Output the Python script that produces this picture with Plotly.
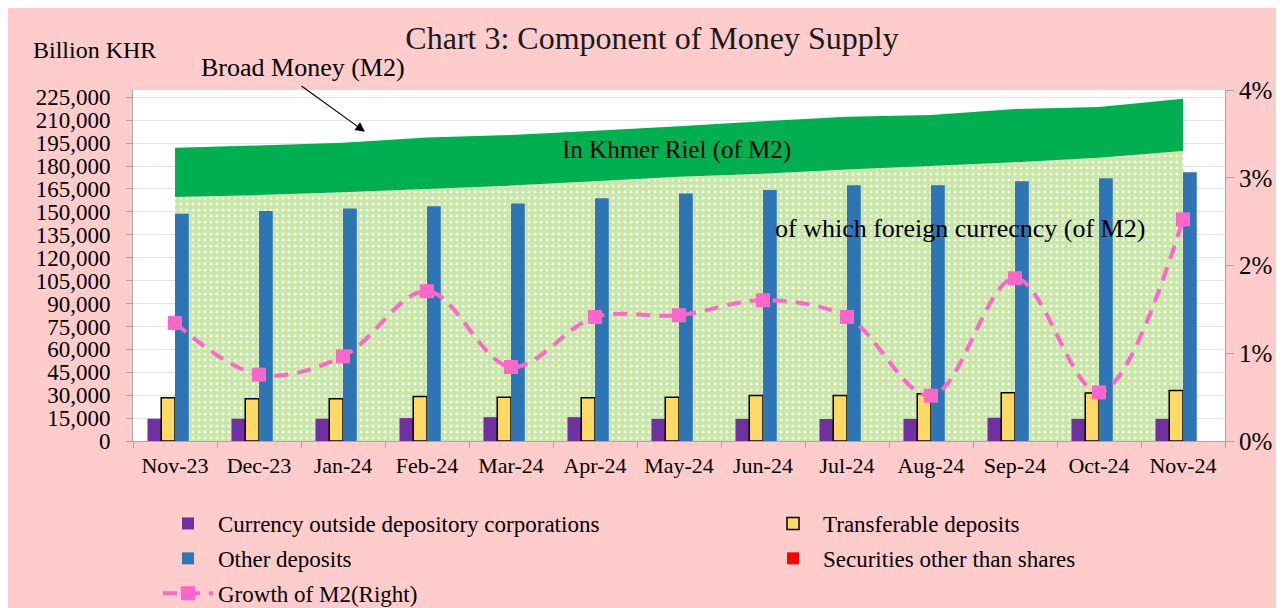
import plotly.graph_objects as go

months = ["Nov-23", "Dec-23", "Jan-24", "Feb-24", "Mar-24", "Apr-24", "May-24",
          "Jun-24", "Jul-24", "Aug-24", "Sep-24", "Oct-24", "Nov-24"]

# Billion KHR
foreign_currency = [159800, 161000, 162800, 165000, 167200, 170000, 173000,
                    175000, 177800, 180000, 182500, 185500, 189800]
khmer_riel = [32200, 32450, 32500, 33650, 33100, 33200, 33100,
              34400, 34500, 33400, 34900, 33100, 34300]
currency_outside = [14600, 14600, 14600, 15000, 15600, 15600, 14500,
                    14500, 14400, 14500, 15200, 14500, 14500]
transferable = [28300, 27700, 27700, 29200, 28700, 28300, 28700,
                29800, 29800, 30900, 31600, 31400, 33100]
other_deposits = [148700, 150500, 152200, 153700, 155500, 159000, 162100,
                  164400, 167500, 167500, 170100, 172100, 176000]
securities = [0, 0, 0, 0, 0, 0, 0, 0, 0, 0, 0, 0, 0]
# percent, month-on-month
m2_growth = [1.345, 0.756, 0.965, 1.707, 0.843, 1.413, 1.433,
             1.604, 1.413, 0.516, 1.855, 0.554, 2.525]

left_ticks = list(range(0, 225001, 15000))
left_ticktext = [f"{v:,}" for v in left_ticks]

FONT = "Liberation Serif"
LEFT_RANGE = [0, 229800]

fig = go.Figure()

# areas on the base axis (drawn first, underneath)
fig.add_trace(go.Scatter(
    x=months, y=foreign_currency, stackgroup="m2", mode="none",
    fillcolor="white",
    fillpattern=dict(shape=".", fgcolor="#92D050", bgcolor="white",
                     size=6, solidity=0.8),
    showlegend=False, hoverinfo="skip"))
fig.add_trace(go.Scatter(
    x=months, y=khmer_riel, stackgroup="m2", mode="none",
    fillcolor="#00B050", showlegend=False, hoverinfo="skip"))

# bars on an overlaying copy of the left axis (drawn above the areas)
fig.add_trace(go.Bar(x=months, y=currency_outside, yaxis="y2",
                     name="Currency outside depository corporations",
                     marker=dict(color="#7030A0", line=dict(width=0)),
                     legend="legend", legendgroup="a"))
fig.add_trace(go.Bar(x=months, y=transferable, yaxis="y2", name="Transferable deposits",
                     marker=dict(color="#FFD966", line=dict(color="black", width=1.5)),
                     legend="legend2", legendgroup="b"))
fig.add_trace(go.Bar(x=months, y=other_deposits, yaxis="y2", name="Other deposits",
                     marker=dict(color="#2E75B6", line=dict(width=0)),
                     legend="legend", legendgroup="c"))
fig.add_trace(go.Bar(x=months, y=securities, yaxis="y2", name="Securities other than shares",
                     marker=dict(color="#FF0000", line=dict(width=0)),
                     legend="legend2", legendgroup="d"))

# growth line on the right axis (top layer)
fig.add_trace(go.Scatter(
    x=months, y=m2_growth, yaxis="y3", name="Growth of M2(Right)",
    mode="lines+markers",
    line=dict(color="#FF66CC", width=4, dash="14px,9px", shape="spline", smoothing=1),
    marker=dict(symbol="square", size=14, color="#FF66CC"),
    legend="legend", legendgroup="e"))

legend_common = dict(
    orientation="v", xref="container", yref="container", yanchor="top",
    xanchor="left", font=dict(family=FONT, size=23, color="black"),
    bgcolor="rgba(0,0,0,0)", itemwidth=50, tracegroupgap=2,
    itemclick=False, itemdoubleclick=False)

fig.update_layout(
    width=1284, height=608,
    paper_bgcolor="#FFCCCC", plot_bgcolor="white",
    margin=dict(l=125, r=67, t=82, b=175, autoexpand=False),
    font=dict(family=FONT, color="black"),
    title=dict(text="Chart 3: Component of Money Supply",
               x=644/1284, xanchor="center", xref="container",
               y=1-30/608, yanchor="middle", yref="container",
               font=dict(family=FONT, size=32, color="#1a1a1a")),
    barmode="group", bargap=0.345, bargroupgap=0,
    xaxis=dict(type="category", range=[-0.5, 12.5], tickson="boundaries",
               ticks="outside", ticklen=6, tickcolor="#A6A6A6", tickangle=0,
               showline=True, linecolor="#A6A6A6", linewidth=1,
               ticklabelstandoff=5,
               showgrid=False, tickfont=dict(family=FONT, size=22, color="black")),
    yaxis=dict(range=LEFT_RANGE, tickvals=left_ticks, ticktext=left_ticktext,
               ticks="outside", ticklen=6, tickcolor="#A6A6A6",
               showline=True, linecolor="#A6A6A6", linewidth=1,
               showgrid=True, gridcolor="#E3E3E3", gridwidth=1,
               zeroline=False, ticklabelstandoff=11,
               tickfont=dict(family=FONT, size=23, color="black")),
    yaxis2=dict(overlaying="y", matches="y", range=LEFT_RANGE, visible=False,
                showgrid=False, zeroline=False),
    yaxis3=dict(overlaying="y", side="right", range=[0, 4], dtick=1,
                ticksuffix="%", ticks="outside", ticklen=8, tickcolor="#A6A6A6",
                showline=True, linecolor="#A6A6A6", linewidth=1,
                showgrid=False, zeroline=False,
                tickfont=dict(family=FONT, size=25, color="black")),
    legend=dict(x=150/1284, y=1-494/608, **legend_common),
    legend2=dict(x=755/1284, y=1-494/608, **legend_common),
    showlegend=True,
)

fig.add_annotation(text="Billion KHR", xref="paper", yref="paper",
                   x=(31-133)/1092, y=(441-50)/351, xanchor="left", yanchor="middle",
                   showarrow=False, font=dict(family=FONT, size=24, color="black"))
fig.add_annotation(text="Broad Money (M2)", xref="paper", yref="paper",
                   x=(199-133)/1092, y=(441-68)/351, xanchor="left", yanchor="middle",
                   showarrow=False, font=dict(family=FONT, size=26, color="black"))
fig.add_annotation(text="", xref="x", yref="y", x=2.262, y=202400,
                   ax=-65, ay=-47, showarrow=True, arrowhead=2, arrowsize=1.6,
                   arrowwidth=1.2, arrowcolor="black")
fig.add_annotation(text="In Khmer Riel (of M2)", xref="paper", yref="paper",
                   x=(676-133)/1092, y=(441-150)/351, xanchor="center", yanchor="middle",
                   showarrow=False, font=dict(family=FONT, size=25, color="black"))
fig.add_annotation(text="of which foreign currecncy (of M2)", xref="paper", yref="paper",
                   x=(960-133)/1092, y=(441-228)/351, xanchor="center", yanchor="middle",
                   showarrow=False, font=dict(family=FONT, size=26, color="black"))

fig.write_html("out.html")
